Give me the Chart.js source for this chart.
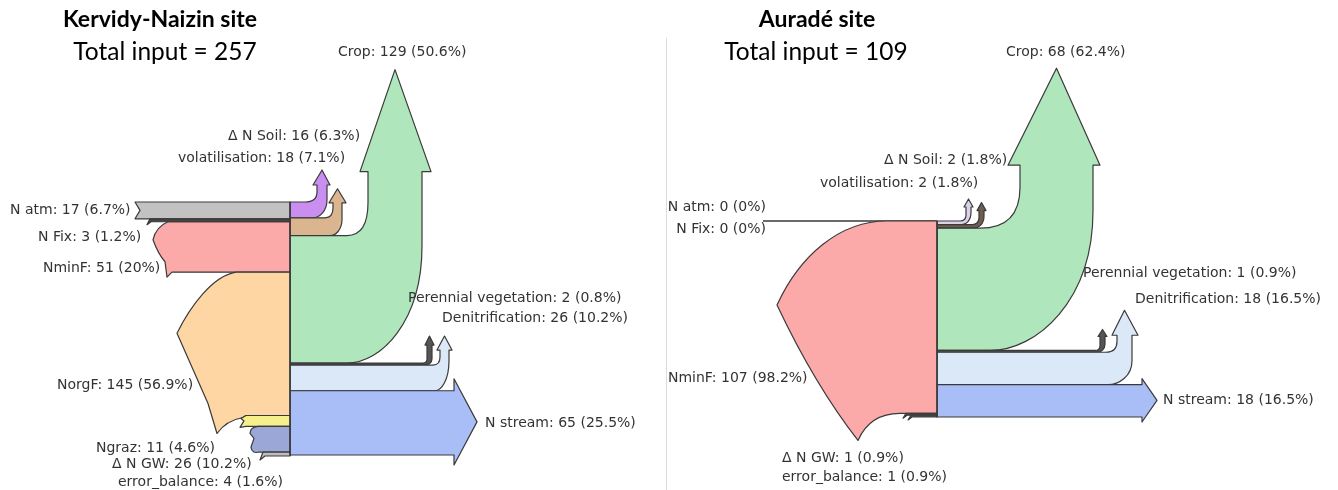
<!DOCTYPE html>
<html>
<head>
<meta charset="utf-8">
<script src="https://cdn.jsdelivr.net/npm/chart.js@4.4.1/dist/chart.umd.min.js"></script>
<style>
html,body{margin:0;padding:0;background:#fff;}
canvas{display:block;}
</style>
</head>
<body>
<canvas id="c" width="1338" height="490"></canvas>
<script>
// ---------------- DATA ----------------
const kervidyTitle = 'Kervidy-Naizin site';
const kervidyTotalInput = 257;
const kervidyInputNames  = ['N atm', 'N Fix', 'NminF', 'NorgF', 'Ngraz', 'Δ N GW', 'error_balance'];
const kervidyInputValues = [17, 3, 51, 145, 11, 26, 4];
const kervidyInputShares = ['6.7%', '1.2%', '20%', '56.9%', '4.6%', '10.2%', '1.6%'];
const kervidyOutputNames  = ['Δ N Soil', 'volatilisation', 'Crop', 'Perennial vegetation', 'Denitrification', 'N stream'];
const kervidyOutputValues = [16, 18, 129, 2, 26, 65];
const kervidyOutputShares = ['6.3%', '7.1%', '50.6%', '0.8%', '10.2%', '25.5%'];

const auradeTitle = 'Auradé site';
const auradeTotalInput = 109;
const auradeInputNames  = ['N atm', 'N Fix', 'NminF', 'Δ N GW', 'error_balance'];
const auradeInputValues = [0, 0, 107, 1, 1];
const auradeInputShares = ['0%', '0%', '98.2%', '0.9%', '0.9%'];
const auradeOutputNames  = ['Δ N Soil', 'volatilisation', 'Crop', 'Perennial vegetation', 'Denitrification', 'N stream'];
const auradeOutputValues = [2, 2, 68, 1, 18, 18];
const auradeOutputShares = ['1.8%', '1.8%', '62.4%', '0.9%', '16.5%', '16.5%'];

// ---------------- LAYOUT / STYLE ----------------
const W = 1338, H = 490;
const STROKE = '#3a3a3a';
const LABEL_FONT = '14px "DejaVu Sans"';
const LABEL_COLOR = '#333';

// pixel extent of each panel's node column (used to configure the value scales)
const kervidyCol = {x: 290, top: 202, bottom: 456};
const auradeCol  = {x: 937, top: 221, bottom: 417};

function valueScale(col, total) {
  const k = (col.bottom - col.top) / total;
  const min = -col.top / k;
  return {min: min, max: min + H / k};
}
const kScale = valueScale(kervidyCol, kervidyTotalInput);
const aScale = valueScale(auradeCol, auradeTotalInput);

const kervidyOutColors = ['#c98ef0', '#dab58f', '#b0e6bb', '#555555', '#dbe8f8', '#a9bdf7'];
const auradeOutColors  = ['#ddd3e8', '#6e5e50', '#b0e6bb', '#555555', '#dbe8f8', '#a9bdf7'];

// output arrow geometry (pixels) per flow
const kervidyOutGeom = [
  {type:'up', xi:305, di:10, xL:317, hb:17, ht:32, xR:327, hoL:4, hoR:3, dOut:18, xo:313},
  {type:'up', xi:325, di:10, xL:333, hb:15, ht:29, xR:342, hoL:4, hoR:4, dOut:16, xo:330},
  {type:'up', xi:347, di:33, xL:368, hb:64, ht:166, xR:422, hoL:8, hoR:9, dOut:117, xo:347},
  {type:'up', xi:423, di:4, xL:427, hb:18, ht:27, xR:432, hoL:2, hoR:2, dOut:6, xo:425},
  {type:'up', xi:433, di:8, xL:440, hb:15, ht:29, xR:449, hoL:3, hoR:3, dOut:30, xo:435},
  {type:'right', xEnd:454, hoT:12, hoB:10, tip:477}
];
const auradeOutGeom = [
  {type:'up', xi:960, di:6, xL:966, hb:14, ht:22, xR:971, hoL:2, hoR:2, dOut:12, xo:962},
  {type:'up', xi:972, di:7, xL:979, hb:14, ht:22, xR:984, hoL:2, hoR:2, dOut:12, xo:974},
  {type:'up', xi:980, di:41, xL:1020, hb:63, ht:160, xR:1093, hoL:12, hoR:7, dOut:140, xo:990},
  {type:'up', xi:1095, di:5, xL:1100, hb:14, ht:21, xR:1105, hoL:2, hoR:2, dOut:8, xo:1097},
  {type:'up', xi:1106, di:11, xL:1117, hb:17, ht:42, xR:1132, hoL:5, hoR:6, dOut:24, xo:1108},
  {type:'right', xEnd:1142, hoT:6, hoB:5, tip:1157}
];

// label anchor positions (x, middle y, align)
const kervidyInLabelPos  = [[10,210],[38,237],[43,268],[57,385],[96,448],[112,464],[118,482]];
const kervidyOutLabelPos = [[228,136],[178,158],[338,52],[408,298],[442,318],[485,423]];
const auradeInLabelPos   = [[766,207,'right'],[766,229,'right'],[668,378],[782,458],[782,477]];
const auradeOutLabelPos  = [[884,160],[820,183],[1006,52],[1083,273],[1135,299],[1163,400]];

// ---------------- DRAWING HELPERS ----------------
function finish(ctx, fill) {
  ctx.closePath();
  ctx.fillStyle = fill;
  ctx.fill();
  ctx.lineWidth = 1.2;
  ctx.strokeStyle = STROKE;
  ctx.stroke();
}
function upArrow(ctx, X, x0, yT, yB, g, fill) {
  ctx.beginPath();
  ctx.moveTo(X(x0), yT);
  ctx.lineTo(X(g.xi), yT);
  ctx.quadraticCurveTo(X(g.xL), yT, X(g.xL), yT - g.di);
  ctx.lineTo(X(g.xL), yT - g.hb);
  ctx.lineTo(X(g.xL - g.hoL), yT - g.hb);
  ctx.lineTo(X((g.xL + g.xR) / 2), yT - g.ht);
  ctx.lineTo(X(g.xR + g.hoR), yT - g.hb);
  ctx.lineTo(X(g.xR), yT - g.hb);
  ctx.lineTo(X(g.xR), yB - g.dOut);
  ctx.bezierCurveTo(X(g.xR), yB - g.dOut * 0.35, X(g.xo + (g.xR - g.xo) * 0.45), yB, X(g.xo), yB);
  ctx.lineTo(X(x0), yB);
  finish(ctx, fill);
}
function rightArrow(ctx, X, x0, yT, yB, g, fill) {
  ctx.beginPath();
  ctx.moveTo(X(x0), yT);
  ctx.lineTo(X(g.xEnd), yT);
  ctx.lineTo(X(g.xEnd), yT - g.hoT);
  ctx.lineTo(X(g.tip), (yT - g.hoT + yB + g.hoB) / 2);
  ctx.lineTo(X(g.xEnd), yB + g.hoB);
  ctx.lineTo(X(g.xEnd), yB);
  ctx.lineTo(X(x0), yB);
  finish(ctx, fill);
}
function stack(scale, values) {
  let acc = 0;
  return values.map(v => { const t = scale.getPixelForValue(acc); acc += v; return [t, scale.getPixelForValue(acc)]; });
}

// input shapes (tails) per panel
function kervidyInputs(ctx, X, s) {
  const x0 = kervidyCol.x;
  let [T, B] = s[0];
  ctx.beginPath(); ctx.moveTo(X(x0), T); ctx.lineTo(X(135), T); ctx.lineTo(X(140), (T + B) / 2); ctx.lineTo(X(135), B); ctx.lineTo(X(x0), B);
  finish(ctx, '#c2c2c2');
  [T, B] = s[2];
  ctx.beginPath(); ctx.moveTo(X(x0), T); ctx.lineTo(X(168), T);
  ctx.quadraticCurveTo(X(156), T + 5, X(153), T + 18);
  ctx.quadraticCurveTo(X(158), T + 32, X(165), T + 40);
  ctx.lineTo(X(167), B + 5); ctx.lineTo(X(172), B); ctx.lineTo(X(x0), B);
  finish(ctx, '#fba9a9');
  [T, B] = s[1];
  ctx.beginPath(); ctx.moveTo(X(x0), T); ctx.lineTo(X(150), T); ctx.lineTo(X(147), B + 3); ctx.lineTo(X(151), B); ctx.lineTo(X(x0), B);
  finish(ctx, '#444');
  [T, B] = s[3];
  ctx.beginPath(); ctx.moveTo(X(x0), T); ctx.lineTo(X(236), T);
  ctx.bezierCurveTo(X(212), T + 4, X(190), T + 35, X(177), T + 61);
  ctx.lineTo(X(208), B - 12); ctx.lineTo(X(217), B + 18);
  ctx.quadraticCurveTo(X(226), B + 5, X(243), B + 2);
  ctx.lineTo(X(246), B); ctx.lineTo(X(x0), B);
  finish(ctx, '#fdd6a4');
  [T, B] = s[4];
  ctx.beginPath(); ctx.moveTo(X(x0), T); ctx.lineTo(X(246), T); ctx.lineTo(X(241), T + 3); ctx.lineTo(X(244), (T + B) / 2); ctx.lineTo(X(240), B + 1); ctx.lineTo(X(246), B); ctx.lineTo(X(x0), B);
  finish(ctx, '#f6f08c');
  [T, B] = s[5];
  ctx.beginPath(); ctx.moveTo(X(x0), T); ctx.lineTo(X(258), T);
  ctx.quadraticCurveTo(X(250), T + 1, X(250), T + 7);
  ctx.lineTo(X(254), T + 12); ctx.lineTo(X(251), B - 5);
  ctx.quadraticCurveTo(X(252), B + 2, X(259), B);
  ctx.lineTo(X(x0), B);
  finish(ctx, '#9ba7d6');
  [T, B] = s[6];
  ctx.beginPath(); ctx.moveTo(X(x0), T); ctx.lineTo(X(263), T); ctx.lineTo(X(260), B + 4); ctx.lineTo(X(265), B); ctx.lineTo(X(x0), B);
  finish(ctx, '#bdbdbd');
}
function auradeInputs(ctx, X, s) {
  const x0 = auradeCol.x;
  // zero-valued inputs: drawn as a bare line
  [0, 1].forEach(i => {
    ctx.beginPath(); ctx.moveTo(X(763), s[i][0]); ctx.lineTo(X(x0), s[i][1]);
    ctx.lineWidth = 2; ctx.strokeStyle = '#6a6a6a'; ctx.stroke();
  });
  let [T, B] = s[2];
  ctx.beginPath(); ctx.moveTo(X(x0), T); ctx.lineTo(X(887), T);
  ctx.bezierCurveTo(X(840), T, X(800), T + 34, X(777), T + 84);
  ctx.quadraticCurveTo(X(815), B - 28, X(858), B + 27);
  ctx.quadraticCurveTo(X(870), B, X(900), B);
  ctx.lineTo(X(x0), B);
  finish(ctx, '#fba9a9');
  [T, B] = s[3];
  ctx.beginPath(); ctx.moveTo(X(x0), T); ctx.lineTo(X(906), T); ctx.lineTo(X(903), B + 3); ctx.lineTo(X(907), B); ctx.lineTo(X(x0), B);
  finish(ctx, '#555');
  [T, B] = s[4];
  ctx.beginPath(); ctx.moveTo(X(x0), T); ctx.lineTo(X(911), T); ctx.lineTo(X(908), B + 3); ctx.lineTo(X(912), B); ctx.lineTo(X(x0), B);
  finish(ctx, '#555');
}

function drawPanel(chart, yId, col, inVals, outVals, outGeom, outColors, inputFn) {
  const ctx = chart.ctx;
  const xs = chart.scales.x;
  const X = v => xs.getPixelForValue(v);
  const ys = chart.scales[yId];
  const sIn = stack(ys, inVals);
  const sOut = stack(ys, outVals);
  outVals.forEach((v, i) => {
    const g = outGeom[i];
    if (g.type === 'up') upArrow(ctx, X, col.x, sOut[i][0], sOut[i][1], g, outColors[i]);
    else rightArrow(ctx, X, col.x, sOut[i][0], sOut[i][1], g, outColors[i]);
  });
  inputFn(ctx, X, sIn);
  ctx.beginPath();
  ctx.moveTo(X(col.x), sIn[0][0]);
  ctx.lineTo(X(col.x), sIn[sIn.length - 1][1]);
  ctx.lineWidth = 1.4; ctx.strokeStyle = STROKE; ctx.stroke();
}
function drawLabels(ctx, names, values, shares, pos) {
  ctx.font = LABEL_FONT; ctx.fillStyle = LABEL_COLOR;
  ctx.textBaseline = 'middle';
  names.forEach((n, i) => {
    ctx.textAlign = pos[i][2] || 'left';
    ctx.fillText(n + ': ' + values[i] + ' (' + shares[i] + ')', pos[i][0], pos[i][1]);
  });
}
function drawTitles(ctx, title, total, cx1, cx2) {
  ctx.fillStyle = '#000'; ctx.textAlign = 'center'; ctx.textBaseline = 'middle';
  ctx.font = 'bold 23px Lato';
  ctx.fillText(title, cx1, 20);
  ctx.font = '24.5px Lato';
  ctx.fillText('Total input = ' + total, cx2, 52);
}

const sankeyPlugin = {
  id: 'sankeyPlugin',
  afterDraw(chart) {
    const ctx = chart.ctx;
    ctx.save();
    // panel separator
    ctx.beginPath(); ctx.moveTo(666.5, 38); ctx.lineTo(666.5, H);
    ctx.lineWidth = 1; ctx.strokeStyle = '#dcdcdc'; ctx.stroke();
    ctx.lineJoin = 'round';
    drawPanel(chart, 'yK', kervidyCol, kervidyInputValues, kervidyOutputValues, kervidyOutGeom, kervidyOutColors, kervidyInputs);
    drawPanel(chart, 'yA', auradeCol, auradeInputValues, auradeOutputValues, auradeOutGeom, auradeOutColors, auradeInputs);
    drawLabels(ctx, kervidyInputNames, kervidyInputValues, kervidyInputShares, kervidyInLabelPos);
    drawLabels(ctx, kervidyOutputNames, kervidyOutputValues, kervidyOutputShares, kervidyOutLabelPos);
    drawLabels(ctx, auradeInputNames, auradeInputValues, auradeInputShares, auradeInLabelPos);
    drawLabels(ctx, auradeOutputNames, auradeOutputValues, auradeOutputShares, auradeOutLabelPos);
    drawTitles(ctx, kervidyTitle, kervidyTotalInput, 160, 165);
    drawTitles(ctx, auradeTitle, auradeTotalInput, 817, 816);
    ctx.restore();
  }
};

new Chart(document.getElementById('c'), {
  type: 'scatter',
  data: {datasets: [
    {label: kervidyTitle, data: [], yAxisID: 'yK'},
    {label: auradeTitle, data: [], yAxisID: 'yA'}
  ]},
  options: {
    responsive: false, animation: false, devicePixelRatio: 1,
    layout: {padding: 0},
    plugins: {legend: {display: false}, tooltip: {enabled: false}, title: {display: false}},
    scales: {
      x:  {type: 'linear', min: 0, max: W, display: false},
      yK: {type: 'linear', position: 'left', reverse: true, min: kScale.min, max: kScale.max, display: false},
      yA: {type: 'linear', position: 'right', reverse: true, min: aScale.min, max: aScale.max, display: false}
    }
  },
  plugins: [sankeyPlugin]
});
</script>
</body>
</html>
